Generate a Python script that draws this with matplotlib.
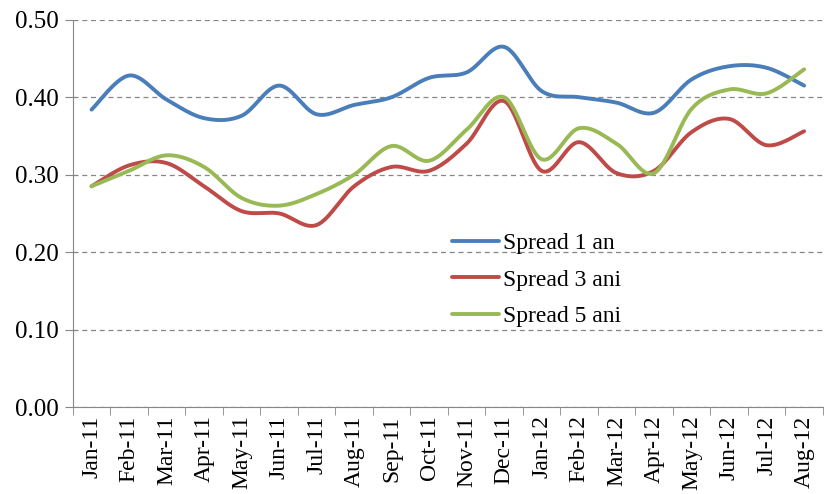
import numpy as np
import matplotlib
matplotlib.use('Agg')
import matplotlib.pyplot as plt

months = ['Jan-11', 'Feb-11', 'Mar-11', 'Apr-11', 'May-11', 'Jun-11', 'Jul-11',
          'Aug-11', 'Sep-11', 'Oct-11', 'Nov-11', 'Dec-11', 'Jan-12', 'Feb-12',
          'Mar-12', 'Apr-12', 'May-12', 'Jun-12', 'Jul-12', 'Aug-12']
spread1 = [0.384, 0.428, 0.397, 0.373, 0.376, 0.415, 0.378, 0.390, 0.400, 0.425,
           0.432, 0.465, 0.408, 0.400, 0.393, 0.380, 0.423, 0.440, 0.438, 0.415]
spread3 = [0.285, 0.312, 0.315, 0.285, 0.253, 0.250, 0.235, 0.285, 0.310, 0.305,
           0.340, 0.395, 0.305, 0.342, 0.302, 0.305, 0.355, 0.372, 0.338, 0.356]
spread5 = [0.285, 0.305, 0.325, 0.310, 0.270, 0.260, 0.275, 0.300, 0.337, 0.318,
           0.358, 0.400, 0.320, 0.360, 0.340, 0.302, 0.385, 0.410, 0.405, 0.436]


def smooth(ys, n=30):
    # excel-like bezier smoothing through the points
    xs = np.arange(len(ys), dtype=float)
    ys = np.asarray(ys, dtype=float)
    px = np.concatenate([[xs[0]], xs, [xs[-1]]])
    py = np.concatenate([[ys[0]], ys, [ys[-1]]])
    outx, outy = [], []
    t = np.linspace(0, 1, n)
    for i in range(1, len(px) - 2):
        p0 = np.array([px[i], py[i]])
        p3 = np.array([px[i + 1], py[i + 1]])
        c1 = p0 + (np.array([px[i + 1], py[i + 1]]) - np.array([px[i - 1], py[i - 1]])) / 6
        c2 = p3 - (np.array([px[i + 2], py[i + 2]]) - np.array([px[i], py[i]])) / 6
        b = ((1 - t) ** 3)[:, None] * p0 + (3 * (1 - t) ** 2 * t)[:, None] * c1 \
            + (3 * (1 - t) * t ** 2)[:, None] * c2 + (t ** 3)[:, None] * p3
        outx.extend(b[:, 0])
        outy.extend(b[:, 1])
    return outx, outy


plt.rcParams['font.family'] = 'Liberation Serif'
fig = plt.figure(figsize=(8.27, 4.94), dpi=100)
ax = fig.add_axes([0.088, 0.176, 0.907, 0.784])

for ys, col, lab in [(spread1, '#4A7EBB', 'Spread 1 an'),
                     (spread3, '#BE4B48', 'Spread 3 ani'),
                     (spread5, '#98B954', 'Spread 5 ani')]:
    sx, sy = smooth(ys)
    ax.plot(sx, sy, color=col, lw=2.8, label=lab, solid_capstyle='round')

ax.set_xlim(-0.5, len(months) - 0.5)
ax.set_ylim(0, 0.5)
ax.set_yticks(np.arange(0, 0.51, 0.1))
ax.set_yticklabels(['%.2f' % v for v in np.arange(0, 0.51, 0.1)], fontsize=18)
ax.set_xticks(range(len(months)))
ax.set_xticklabels(months, rotation=90, fontsize=17)
ax.set_xticks(np.arange(-0.5, len(months), 1), minor=True)
ax.tick_params(axis='x', which='major', length=0, pad=6)
ax.tick_params(axis='x', which='minor', length=6, color='#868686')
ax.tick_params(axis='y', length=6, color='#868686', pad=4)

for s in ['top', 'right']:
    ax.spines[s].set_visible(False)
for s in ['left', 'bottom']:
    ax.spines[s].set_color('#868686')
ax.yaxis.grid(True, linestyle=(0, (4, 3)), color='#868686', lw=0.9)
ax.set_axisbelow(True)

ax.legend(loc='upper left', bbox_to_anchor=(0.49, 0.48), frameon=False,
          fontsize=17, handlelength=2.0, handletextpad=0.15, labelspacing=0.62,
          borderpad=0)

fig.savefig('out.png', dpi=100)
